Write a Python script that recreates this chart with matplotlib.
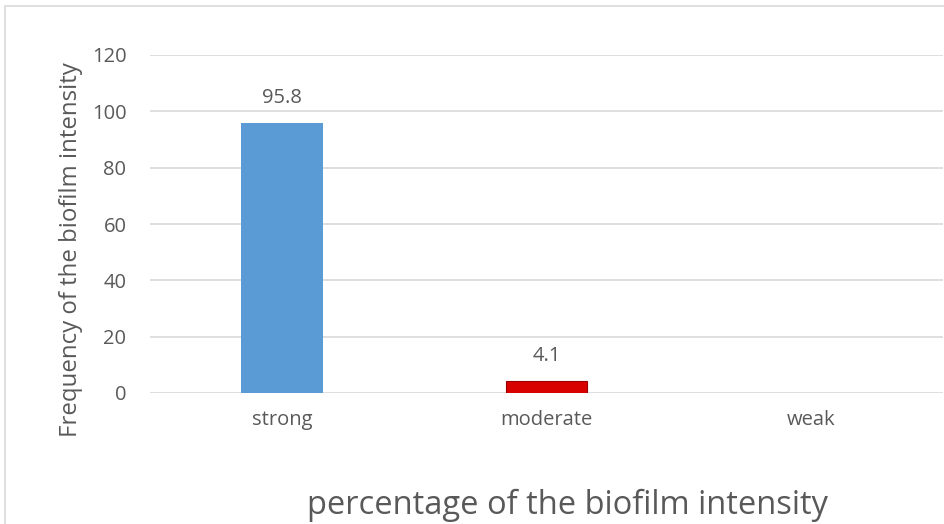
import numpy as np
import matplotlib.pyplot as plt
from matplotlib.patches import Rectangle

categorias = ["strong", "moderate", "weak"]
valores = [95.8, 4.1, np.nan]
cores = ["#5b9bd5", "#d90000", "#a5a5a5"]
ticks_y = [0, 20, 40, 60, 80, 100, 120]

plt.rcParams["font.family"] = ["Open Sans", "DejaVu Sans"]
cinza_texto = "#595959"

fig = plt.figure(figsize=(9.45, 5.24), dpi=100)
ax = fig.add_axes([150 / 945, 1 - 393 / 524, 793 / 945, 338 / 524])

x = np.arange(len(categorias))
barras = ax.bar(x, valores, width=0.31, color=cores, zorder=3)
barras[1].set_edgecolor("#9a0000")
barras[1].set_linewidth(0.8)

# rótulos de valor
for xi, v in zip(x, valores):
    if np.isnan(v):
        continue
    ax.annotate(f"{v}", (xi, v), xytext=(0, 11), textcoords="offset points",
                ha="center", va="bottom", fontsize=14.5, color=cinza_texto)

ax.set_xlim(-0.5, 2.5)
ax.set_ylim(0, 120)
ax.set_yticks(ticks_y)
ax.set_xticks(x)
ax.set_xticklabels(categorias)
ax.tick_params(axis="both", length=0, labelsize=14.5, labelcolor=cinza_texto)
ax.tick_params(axis="x", pad=12)
ax.tick_params(axis="y", pad=17)
ax.grid(axis="y", color="#d9d9d9", linewidth=1.2, zorder=0)
for s in ax.spines.values():
    s.set_visible(False)

ax.set_ylabel("Frequency of the biofilm intensity", fontsize=17.3, color=cinza_texto)
ax.yaxis.set_label_coords(-0.085, 0.423)
fig.text(568 / 945, 1 - 505 / 524, "percentage of the biofilm intensity",
         ha="center", va="center", fontsize=23.5, color=cinza_texto)

# moldura do gráfico
fig.patches.append(Rectangle((5 / 945, -0.05), 1.0, 1 - 6 / 524 + 0.05,
                             transform=fig.transFigure, fill=False,
                             edgecolor="#d9d9d9", linewidth=1.2))

fig.savefig("out.png", dpi=100)
